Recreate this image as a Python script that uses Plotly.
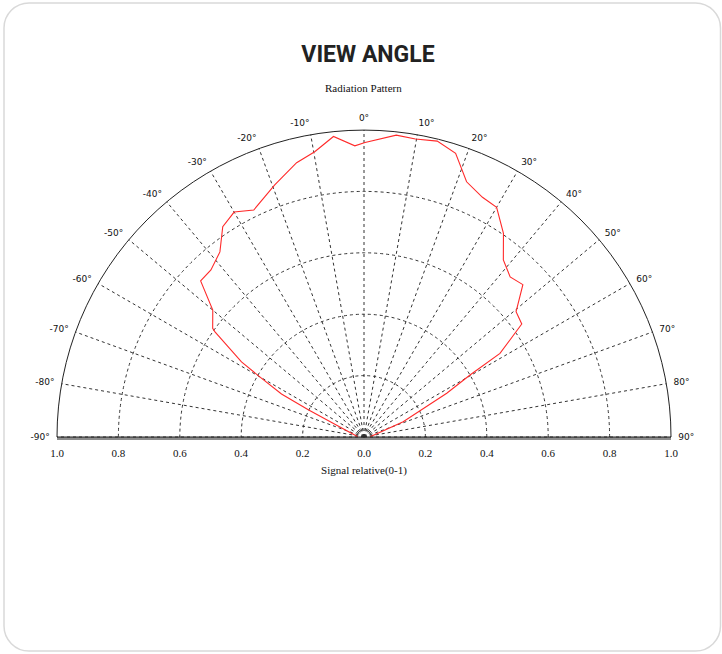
import plotly.graph_objects as go

# Measured radiation pattern (angle in degrees, relative signal 0-1)
angles = [-88, -64, -62.5, -60, -58.5, -54.8, -54.3, -50, -46.3, -42.5, -37.9, -33.9,
          -30, -25.9, -19.5, -13.8, -9.8, -5.8, -1.8, 0.2, 6.1, 9.8, 13.9, 17.9, 21.9,
          26.3, 30, 34.4, 38.2, 42.4, 46.2, 50.5, 54.4, 58.4, 59.7, 62.1, 68.7, 88]
signal = [0.02, 0.202, 0.303, 0.392, 0.468, 0.594, 0.607, 0.643, 0.736, 0.738, 0.764, 0.825,
          0.846, 0.822, 0.871, 0.920, 0.943, 0.984, 0.949, 0.959, 0.989, 0.985, 0.993, 0.971, 0.896,
          0.871, 0.864, 0.804, 0.734, 0.706, 0.717, 0.642, 0.632, 0.520, 0.400, 0.305, 0.137, 0.02]

angle_ticks = list(range(-90, 91, 10))
angle_labels = [f"{a}°" for a in angle_ticks]
radial_grid = [0.2, 0.4, 0.6, 0.8]
signal_ticks = [-1.0, -0.8, -0.6, -0.4, -0.2, 0.0, 0.2, 0.4, 0.6, 0.8, 1.0]
signal_labels = ["1.0", "0.8", "0.6", "0.4", "0.2", "0.0", "0.2", "0.4", "0.6", "0.8", "1.0"]

W, H = 722, 654


def px(x):
    return x / W


def py(y):
    return 1 - y / H


cx, cy, R = 364, 437, 307
dom_x = [px(cx - R), px(cx + R)]
dom_y = [py(cy), py(cy - R)]

fig = go.Figure()
fig.add_trace(go.Scatterpolar(
    r=signal, theta=angles, mode="lines",
    line=dict(color="#ff2a2a", width=1.1),
    showlegend=False, hoverinfo="skip"))

# invisible cartesian helper carrying the baseline scale
fig.add_trace(go.Scatter(x=[-1, 1], y=[0, 0], mode="lines",
                         line=dict(width=0), showlegend=False, hoverinfo="skip",
                         xaxis="x", yaxis="y"))

serif = "Liberation Serif"
fig.update_layout(
    width=W, height=H, autosize=False,
    margin=dict(l=0, r=0, t=0, b=0, pad=0),
    paper_bgcolor="white",
    plot_bgcolor="rgba(0,0,0,0)",
    polar=dict(
        domain=dict(x=dom_x, y=dom_y),
        sector=[0, 180],
        bgcolor="rgba(0,0,0,0)",
        radialaxis=dict(range=[0, 1], tickvals=radial_grid, showticklabels=False,
                        ticks="", showline=False, gridcolor="#333333",
                        griddash="3px,3px", gridwidth=1),
        angularaxis=dict(rotation=90, direction="clockwise", tickmode="array",
                         tickvals=angle_ticks, ticktext=angle_labels,
                         ticks="outside", ticklen=5, tickcolor="rgba(0,0,0,0)",
                         showline=True, linecolor="#222222", linewidth=1,
                         gridcolor="#333333", griddash="3px,3px", gridwidth=1,
                         tickfont=dict(family="DejaVu Sans", size=9, color="#111111")),
    ),
    xaxis=dict(domain=dom_x, range=[-1, 1], tickmode="array", tickvals=signal_ticks,
               ticktext=signal_labels, showgrid=False, zeroline=False, automargin=False,
               showline=True, linecolor="#8c8c8c", linewidth=2.5, ticks="",
               ticklabelstandoff=4,
               tickfont=dict(family=serif, size=11, color="#111111"),
               title=dict(text="Signal relative(0-1)", standoff=9,
                          font=dict(family=serif, size=11, color="#111111")),
               fixedrange=True),
    yaxis=dict(domain=dom_y, range=[0, 1], visible=False, automargin=False, fixedrange=True),
    title=dict(text="<b>VIEW ANGLE</b>", x=px(368), xanchor="center", y=py(54),
               yanchor="middle", automargin=False,
               font=dict(family="Roboto", size=23, color="#222222")),
    annotations=[dict(text="Radiation Pattern", xref="paper", yref="paper",
                      x=px(364), y=py(88), showarrow=False, xanchor="center",
                      yanchor="middle", font=dict(family=serif, size=11, color="#111111"))],
)

# rounded outer frame
x0, x1 = px(4), px(720.5)
y0, y1 = py(651), py(3)
rx, ry = 25 / W, 25 / H
k = 0.55
path = (f"M {x0+rx},{y1} L {x1-rx},{y1} C {x1-rx+k*rx},{y1} {x1},{y1-ry+k*ry} {x1},{y1-ry} "
        f"L {x1},{y0+ry} C {x1},{y0+ry-k*ry} {x1-rx+k*rx},{y0} {x1-rx},{y0} "
        f"L {x0+rx},{y0} C {x0+rx-k*rx},{y0} {x0},{y0+ry-k*ry} {x0},{y0+ry} "
        f"L {x0},{y1-ry} C {x0},{y1-ry+k*ry} {x0+rx-k*rx},{y1} {x0+rx},{y1} Z")
fig.add_shape(type="path", path=path, xref="paper", yref="paper",
              line=dict(color="#d9d9d9", width=1.5), layer="below")

fig.write_html("out.html",
               config={"displayModeBar": False},
               post_script="document.body.style.margin='0px';document.body.style.overflow='hidden';")
